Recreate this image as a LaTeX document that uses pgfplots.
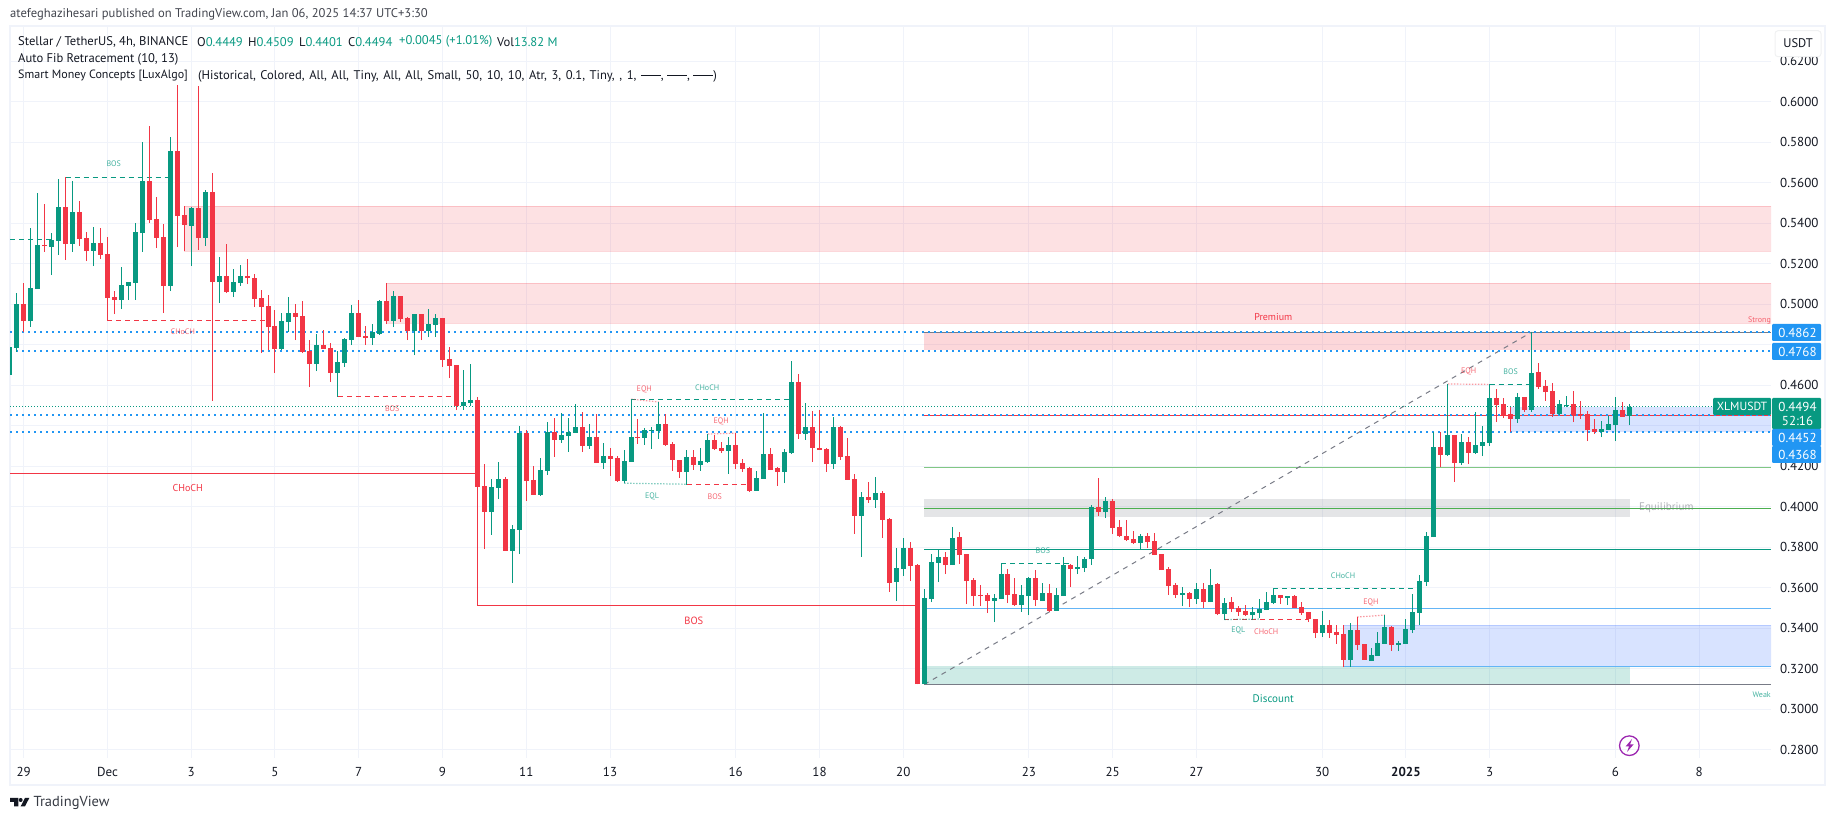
\documentclass[border=0pt]{standalone}
\usepackage{fontspec}
\setmainfont{PT Sans}
\usepackage{pgfplots}
\usepackage{pgfplotstable}
\pgfplotsset{compat=1.18}
\definecolor{upc}{HTML}{089981}
\definecolor{dnc}{HTML}{F23645}
\definecolor{blu}{HTML}{2196F3}
\definecolor{gridc}{HTML}{F0F3FA}
\definecolor{ink}{HTML}{131722}
\definecolor{greyl}{HTML}{787B86}
\definecolor{bluez}{HTML}{2962FF}

% columns: candle number (0 = 29 Nov 00:00, 6 candles a day), open, high, low, close
\pgfplotstableread{
i o h l c
-2 .4650 .4790 .4650 .4790
-1 .4785 .5053 .4765 .5001
1 .4917 .5374 .4889 .5078
2 .5077 .5547 .5077 .5290
4 .5282 .5350 .5144 .5317
5 .5312 .5616 .5243 .5478
7 .5299 .5608 .5259 .5453
10 .5262 .5379 .5188 .5302
14 .5021 .5184 .4976 .5095
15 .5090 .5111 .5021 .5109
16 .5104 .5399 .5021 .5356
17 .5351 .5799 .5258 .5608
21 .5090 .5825 .5065 .5756
24 .5386 .5480 .5188 .5475
26 .5327 .5564 .5287 .5554
28 .5109 .5233 .5006 .5139
30 .5060 .5174 .5035 .5108
31 .5104 .5193 .5090 .5139
37 .4779 .4956 .4774 .4917
38 .4912 .5035 .4863 .4956
42 .4704 .4853 .4670 .4798
45 .4660 .4769 .4543 .4714
46 .4709 .4833 .4690 .4828
47 .4823 .4996 .4798 .4956
50 .4833 .4902 .4798 .4862
51 .4853 .5021 .4848 .5016
53 .4917 .5065 .4887 .5040
56 .4867 .4951 .4749 .4951
58 .4867 .4976 .4838 .4902
59 .4897 .4951 .4838 .4932
63 .4498 .4675 .4478 .4517
64 .4513 .4705 .4498 .4527
67 .3974 .4137 .3861 .4098
68 .4093 .4221 .4038 .4137
70 .3782 .3910 .3624 .3890
71 .3885 .4399 .3767 .4364
74 .4058 .4241 .4053 .4182
75 .4177 .4419 .4157 .4369
77 .4330 .4461 .4315 .4354
78 .4350 .4438 .4271 .4369
79 .4364 .4508 .4364 .4394
81 .4300 .4409 .4285 .4345
83 .4216 .4315 .4187 .4251
86 .4127 .4280 .4116 .4226
87 .4221 .4531 .4221 .4345
89 .4340 .4389 .4305 .4379
90 .4374 .4394 .4285 .4379
91 .4374 .4517 .4335 .4409
95 .4172 .4280 .4108 .4246
97 .4206 .4290 .4177 .4226
98 .4221 .4359 .4216 .4330
101 .4275 .4345 .4162 .4305
105 .4078 .4177 .4078 .4142
106 .4137 .4463 .4137 .4261
109 .4172 .4285 .4117 .4271
110 .4266 .4720 .4261 .4616
112 .4359 .4513 .4330 .4394
116 .4211 .4443 .4187 .4394
120 .3954 .4073 .3752 .4048
122 .4033 .4147 .3994 .4068
125 .3629 .3797 .3535 .3698
126 .3693 .3846 .3658 .3797
129 .3124 .3593 .3122 .3549
130 .3544 .3766 .3529 .3727
131 .3722 .3786 .3628 .3751
133 .3712 .3899 .3712 .3845
139 .3534 .3569 .3430 .3549
140 .3544 .3720 .3544 .3667
143 .3514 .3613 .3480 .3564
144 .3559 .3652 .3465 .3648
146 .3534 .3623 .3534 .3573
148 .3485 .3598 .3485 .3564
149 .3559 .3751 .3559 .3712
151 .3692 .3759 .3667 .3702
152 .3697 .3751 .3677 .3741
153 .3741 .4008 .3712 .3998
155 .3973 .4048 .3944 .4028
160 .3820 .3865 .3791 .3855
166 .3564 .3603 .3509 .3573
168 .3544 .3623 .3519 .3593
170 .3529 .3692 .3529 .3613
172 .3470 .3549 .3442 .3524
176 .3465 .3504 .3440 .3480
177 .3475 .3544 .3450 .3494
178 .3489 .3578 .3489 .3529
179 .3524 .3596 .3519 .3564
181 .3549 .3559 .3514 .3559
186 .3376 .3485 .3356 .3415
190 .3243 .3425 .3208 .3391
193 .3238 .3302 .3238 .3267
194 .3263 .3381 .3263 .3327
195 .3322 .3465 .3322 .3406
197 .3317 .3337 .3287 .3327
198 .3322 .3445 .3322 .3396
199 .3391 .3569 .3376 .3480
200 .3475 .3662 .3415 .3633
201 .3628 .3875 .3608 .3855
202 .3850 .4369 .3850 .4294
204 .4255 .4606 .4250 .4354
206 .4215 .4359 .4206 .4319
208 .4265 .4467 .4260 .4304
209 .4299 .4398 .4250 .4319
210 .4314 .4606 .4299 .4536
214 .4433 .4561 .4413 .4541
216 .4477 .4862 .4467 .4660
220 .4457 .4527 .4452 .4507
221 .4499 .4546 .4492 .4504
226 .4369 .4423 .4344 .4383
227 .4378 .4448 .4378 .4408
228 .4403 .4541 .4324 .4477
230 .4449 .4509 .4401 .4494
}\upT

\pgfplotstableread{
i o h l c
0 .5001 .5103 .4864 .4917
3 .5290 .5495 .5259 .5286
6 .5478 .5626 .5218 .5299
8 .5453 .5509 .5287 .5323
9 .5327 .5355 .5213 .5262
11 .5302 .5374 .5223 .5243
12 .5248 .5332 .4922 .5032
13 .5035 .5065 .4951 .5021
18 .5608 .5880 .5401 .5416
19 .5421 .5529 .5277 .5327
20 .5332 .5396 .4956 .5090
22 .5756 .6082 .5282 .5435
23 .5440 .5485 .5262 .5391
25 .5475 .6077 .5267 .5327
27 .5554 .5648 .4522 .5109
29 .5139 .5297 .5055 .5060
32 .5139 .5223 .5099 .5129
33 .5129 .5147 .4986 .5025
34 .5030 .5070 .4759 .4986
35 .4991 .5045 .4774 .4887
36 .4892 .4971 .4660 .4779
39 .4956 .5001 .4823 .4937
40 .4942 .5016 .4759 .4764
41 .4769 .4823 .4591 .4704
43 .4798 .4872 .4779 .4779
44 .4783 .4808 .4616 .4660
48 .4956 .5021 .4838 .4838
49 .4843 .4892 .4798 .4833
52 .5016 .5104 .4902 .4917
54 .5040 .5040 .4912 .4927
55 .4932 .4937 .4823 .4867
57 .4951 .4951 .4823 .4867
60 .4932 .4932 .4690 .4724
61 .4729 .4788 .4635 .4695
62 .4700 .4700 .4477 .4497
65 .4527 .4540 .4099 .4099
66 .4103 .4211 .3792 .3974
69 .4137 .4147 .3782 .3782
72 .4364 .4379 .4029 .4127
73 .4132 .4201 .4058 .4058
76 .4369 .4438 .4246 .4330
80 .4394 .4468 .4271 .4300
82 .4345 .4458 .4216 .4216
84 .4251 .4290 .4152 .4236
85 .4241 .4251 .4122 .4127
88 .4345 .4433 .4310 .4340
92 .4409 .4458 .4300 .4305
93 .4310 .4320 .4177 .4231
94 .4231 .4231 .4142 .4172
96 .4246 .4280 .4182 .4206
99 .4330 .4354 .4280 .4285
100 .4290 .4320 .4266 .4275
102 .4305 .4364 .4187 .4211
103 .4216 .4236 .4172 .4187
104 .4191 .4196 .4073 .4078
107 .4261 .4290 .4182 .4182
108 .4191 .4196 .4103 .4172
111 .4616 .4656 .4335 .4359
113 .4394 .4473 .4221 .4290
114 .4290 .4478 .4280 .4280
115 .4285 .4290 .4172 .4211
117 .4394 .4399 .4231 .4246
118 .4251 .4340 .4132 .4132
119 .4137 .4162 .3866 .3954
121 .4048 .4122 .4019 .4033
123 .4068 .4078 .3846 .3935
124 .3940 .3945 .3579 .3624
127 .3797 .3826 .3633 .3708
128 .3712 .3717 .3122 .3124
132 .3751 .3776 .3667 .3712
134 .3850 .3875 .3717 .3761
135 .3766 .3766 .3519 .3633
136 .3638 .3648 .3509 .3559
137 .3564 .3613 .3509 .3559
138 .3564 .3573 .3475 .3534
141 .3667 .3692 .3524 .3564
142 .3569 .3648 .3509 .3514
145 .3648 .3687 .3509 .3539
147 .3573 .3618 .3480 .3485
150 .3712 .3717 .3603 .3692
154 .3998 .4141 .3954 .3973
156 .4028 .4038 .3865 .3894
157 .3899 .3934 .3850 .3855
158 .3855 .3934 .3830 .3835
159 .3840 .3880 .3815 .3820
161 .3855 .3870 .3796 .3825
162 .3830 .3870 .3761 .3761
163 .3766 .3766 .3687 .3687
164 .3692 .3702 .3564 .3608
165 .3613 .3623 .3549 .3564
167 .3573 .3578 .3504 .3544
169 .3593 .3623 .3499 .3529
171 .3618 .3623 .3465 .3470
173 .3529 .3554 .3480 .3494
174 .3499 .3509 .3460 .3480
175 .3485 .3514 .3460 .3465
180 .3564 .3564 .3519 .3549
182 .3559 .3564 .3499 .3499
183 .3504 .3529 .3465 .3475
184 .3480 .3480 .3430 .3445
185 .3445 .3445 .3351 .3376
187 .3415 .3440 .3351 .3376
188 .3381 .3415 .3322 .3366
189 .3371 .3415 .3208 .3243
191 .3391 .3455 .3292 .3317
192 .3322 .3322 .3243 .3243
196 .3406 .3411 .3287 .3317
203 .4294 .4369 .4196 .4255
205 .4354 .4354 .4122 .4215
207 .4319 .4344 .4211 .4265
211 .4536 .4581 .4418 .4502
212 .4507 .4536 .4438 .4448
213 .4457 .4492 .4369 .4433
215 .4541 .4541 .4467 .4477
217 .4665 .4709 .4581 .4591
218 .4596 .4625 .4522 .4566
219 .4571 .4611 .4443 .4457
222 .4507 .4571 .4418 .4452
223 .4456 .4522 .4433 .4451
224 .4457 .4472 .4324 .4378
225 .4383 .4433 .4359 .4369
229 .4477 .4517 .4443 .4443
}\dnT

\newcommand{\sz}[1]{\fontsize{#1}{#1}\selectfont}
\newcommand{\ldash}{\rule[3.5pt]{20pt}{1pt}}
\tikzset{tagf/.style={font=\sz{13}}}
% price tag on the right scale: top y, bottom y (px from the top), colour, text
\newcommand{\tagbox}[4]{%
  \fill[#3,rounded corners=1pt] (1772,821-#1) rectangle (1821,821-#2);
  \node[text=white,tagf,inner sep=0pt] at (1797.5,{821-0.5*#1-0.5*#2}) {#4};}

\begin{document}
\begin{tikzpicture}[x=1pt,y=1pt]
\useasboundingbox (0,0) rectangle (1835,821);
\draw[gridc,line width=2pt] (9.5,795) rectangle (1825,36);

\begin{axis}[
  at={(10pt,63pt)}, anchor=south west,
  scale only axis, width=1761pt, height=731pt,
  xmin=-1.958, xmax=250.3, ymin=0.2759, ymax=0.6369,
  clip mode=individual,
  axis line style={draw=none},
  major tick length=0pt,
  grid=major, grid style={gridc,line width=1pt},
  ytick={0.28,0.30,0.32,0.34,0.36,0.38,0.40,0.42,0.44,0.46,0.48,0.50,0.52,0.54,0.56,0.58,0.60,0.62},
  yticklabels={0.2800,0.3000,0.3200,0.3400,0.3600,0.3800,0.4000,0.4200,,0.4600,,0.5000,0.5200,0.5400,0.5600,0.5800,0.6000,0.6200},
  yticklabel pos=right,
  yticklabel style={anchor=west,inner sep=0pt,xshift=9pt,text=ink,font=\sz{13}},
  xtick={0,12,24,36,48,60,72,84,102,114,126,144,156,168,186,198,210,228,240},
  xticklabels={29,Dec,3,5,7,9,11,13,16,18,20,23,25,27,30,\textbf{2025},3,6,8},
  xticklabel style={anchor=center,inner sep=0pt,yshift=-14pt,text=ink,font=\sz{13}},
  every axis plot/.append style={forget plot},
]
% supply and demand zones
\addplot[fill=dnc,fill opacity=.15,draw=dnc,draw opacity=.2] coordinates {(23,.5485)(250.3,.5485)(250.3,.5264)(23,.5264)} --cycle;
\addplot[fill=dnc,fill opacity=.15,draw=dnc,draw opacity=.2] coordinates {(52,.5104)(250.3,.5104)(250.3,.4905)(52,.4905)} --cycle;
\addplot[fill=dnc,fill opacity=.2,draw=none] coordinates {(129,.4862)(230.1,.4862)(230.1,.4774)(129,.4774)} --cycle;
\addplot[fill=greyl,fill opacity=.2,draw=none] coordinates {(129,.4036)(230.1,.4036)(230.1,.3950)(129,.3950)} --cycle;
\addplot[fill=upc,fill opacity=.2,draw=none] coordinates {(129,.3213)(230.1,.3213)(230.1,.3122)(129,.3122)} --cycle;
\addplot[fill=bluez,fill opacity=.18,draw=bluez,draw opacity=.2] coordinates {(189,.3415)(250.3,.3415)(250.3,.3210)(189,.3210)} --cycle;
\addplot[fill=bluez,fill opacity=.18,draw=none] coordinates {(213,.4494)(250.3,.4494)(250.3,.4367)(213,.4367)} --cycle;

% retracement levels
\addplot[greyl,line width=1pt] coordinates {(129,.4862)(250.3,.4862)};
\addplot[dnc,line width=1pt] coordinates {(129,.4452)(250.3,.4452)};
\addplot[color={rgb,255:red,129;green,199;blue,132},line width=1pt] coordinates {(129,.4194)(250.3,.4194)};
\addplot[color={rgb,255:red,76;green,175;blue,80},line width=1pt] coordinates {(129,.3992)(250.3,.3992)};
\addplot[upc,line width=1pt] coordinates {(129,.3789)(250.3,.3789)};
\addplot[color={rgb,255:red,100;green,181;blue,246},line width=1pt] coordinates {(129,.3498)(250.3,.3498)};
\addplot[color={rgb,255:red,100;green,181;blue,246},line width=1pt] coordinates {(189,.3211)(250.3,.3211)};
\addplot[greyl,line width=1pt] coordinates {(129,.3122)(250.3,.3122)};
\addplot[greyl,line width=1pt,dash pattern=on 5pt off 5pt] coordinates {(129,.3122)(216,.4862)};

% previous highs and lows, price line
\addplot[blu,line width=2pt,dash pattern=on 2pt off 4pt] coordinates {(-1.958,.4862)(250.3,.4862)};
\addplot[blu,line width=2pt,dash pattern=on 2pt off 4pt] coordinates {(-1.958,.4768)(250.3,.4768)};
\addplot[blu,line width=2pt,dash pattern=on 2pt off 4pt] coordinates {(-1.958,.4452)(250.3,.4452)};
\addplot[blu,line width=2pt,dash pattern=on 2pt off 4pt] coordinates {(-1.958,.4368)(250.3,.4368)};
\addplot[upc,line width=1pt,dash pattern=on 1pt off 2pt] coordinates {(-1.958,.4494)(250.3,.4494)};

% market structure
\addplot[dnc,line width=1pt] coordinates {(-1.958,.4165)(65,.4165)(65,.3513)(128,.3513)};
\addplot[upc,line width=1.2pt,dash pattern=on 5pt off 4pt] coordinates {(6,.5626)(21,.5626)};
\addplot[upc,line width=1.2pt,dash pattern=on 5pt off 4pt] coordinates {(-1.958,.5320)(4,.5320)};
\addplot[dnc,line width=1.2pt,dash pattern=on 5pt off 4pt] coordinates {(12,.4920)(35,.4920)};
\addplot[dnc,line width=1.2pt,dash pattern=on 5pt off 4pt] coordinates {(45,.4545)(62,.4545)};
\addplot[upc,line width=1.2pt,dash pattern=on 5pt off 4pt] coordinates {(87,.4531)(110,.4531)};
\addplot[dnc,line width=1.2pt,dash pattern=on 5pt off 4pt] coordinates {(95,.4111)(104,.4111)};
\addplot[upc,line width=1.2pt,dash pattern=on 5pt off 4pt] coordinates {(140,.3720)(150,.3720)};
\addplot[upc,line width=1.2pt,dash pattern=on 5pt off 4pt] coordinates {(179,.3597)(200,.3597)};
\addplot[dnc,line width=1.2pt,dash pattern=on 5pt off 4pt] coordinates {(172,.3443)(184,.3443)};
\addplot[upc,line width=1.2pt,dash pattern=on 5pt off 4pt] coordinates {(210,.4604)(216,.4604)};
\addplot[dnc,opacity=.5,line width=1.2pt,dash pattern=on 1.5pt off 1.5pt] coordinates {(87,.4531)(91,.4517)};
\addplot[dnc,opacity=.5,line width=1.2pt,dash pattern=on 1.5pt off 1.5pt] coordinates {(98,.4359)(102,.4363)};
\addplot[dnc,opacity=.5,line width=1.2pt,dash pattern=on 1.5pt off 1.5pt] coordinates {(191,.3455)(195,.3465)};
\addplot[dnc,opacity=.5,line width=1.2pt,dash pattern=on 1.5pt off 1.5pt] coordinates {(204,.4606)(210,.4604)};
\addplot[upc,opacity=.5,line width=1.2pt,dash pattern=on 1.5pt off 1.5pt] coordinates {(86,.4116)(95,.4111)};
\addplot[upc,opacity=.5,line width=1.2pt,dash pattern=on 1.5pt off 1.5pt] coordinates {(172,.3443)(177,.3445)};

% candles: wicks, then bodies
\addplot[draw=none,no markers,error bars/.cd,y dir=plus,y explicit,error mark=none,error bar style={draw=upc,solid,line width=1pt}]
  table[x=i,y=l,y error plus expr=\thisrow{h}-\thisrow{l}] {\upT};
\addplot[draw=none,no markers,error bars/.cd,y dir=plus,y explicit,error mark=none,error bar style={draw=dnc,solid,line width=1pt}]
  table[x=i,y=l,y error plus expr=\thisrow{h}-\thisrow{l}] {\dnT};
\addplot[draw=none,no markers,error bars/.cd,y dir=plus,y explicit,error mark=none,error bar style={draw=upc,solid,line width=5pt}]
  table[x=i,y=o,y error plus expr=\thisrow{c}-\thisrow{o}] {\upT};
\addplot[draw=none,no markers,error bars/.cd,y dir=plus,y explicit,error mark=none,error bar style={draw=dnc,solid,line width=5pt}]
  table[x=i,y=c,y error plus expr=\thisrow{o}-\thisrow{c}] {\dnT};

% structure labels
\tikzset{lu/.style={text=upc,text opacity=.75,font=\sz{8},inner sep=0pt},ld/.style={text=dnc,text opacity=.75,font=\sz{8},inner sep=0pt}}
\node[lu] at (axis cs:12.9,.5692) {BOS};
\node[ld] at (axis cs:22.8,.4863) {CHoCH};
\node[ld] at (axis cs:52.8,.4484) {BOS};
\node[text=dnc,font=\sz{10},inner sep=0pt] at (axis cs:23.5,.4092) {CHoCH};
\node[text=dnc,font=\sz{10.5},inner sep=0pt] at (axis cs:96,.3437) {BOS};
\node[lu] at (axis cs:97.9,.4590) {CHoCH};
\node[ld] at (axis cs:88.9,.4580) {EQH};
\node[ld] at (axis cs:99.9,.4422) {EQH};
\node[lu] at (axis cs:90,.4051) {EQL};
\node[ld] at (axis cs:99,.4051) {BOS};
\node[lu] at (axis cs:146,.3783) {BOS};
\node[lu] at (axis cs:189,.3661) {CHoCH};
\node[ld] at (axis cs:178,.3385) {CHoCH};
\node[lu] at (axis cs:174,.3390) {EQL};
\node[ld] at (axis cs:193,.3528) {EQH};
\node[ld] at (axis cs:207,.4669) {EQH};
\node[lu] at (axis cs:213,.4669) {BOS};
\node[text=dnc,font=\sz{10},inner sep=0pt] at (axis cs:179,.4937) {Premium};
\node[ld,anchor=east] at (axis cs:250.3,.4919) {Strong};
\node[text=greyl,text opacity=.6,font=\sz{11},inner sep=0pt] at (axis cs:235.3,.3995) {Equilibrium};
\node[text=upc,font=\sz{11},inner sep=0pt] at (axis cs:179,.3052) {Discount};
\node[lu,anchor=east] at (axis cs:250.3,.3070) {Weak};
\end{axis}

% price scale tags and button
\fill[upc,rounded corners=1pt] (1713,423) rectangle (1771,406);
\node[text=white,font=\sz{11.8},inner sep=0pt] at (1742,414.5) {XLMUSDT};
\tagbox{324}{341}{blu}{0.4862}
\tagbox{343}{360}{blu}{0.4768}
\fill[upc,rounded corners=1pt] (1772,423) rectangle (1821,392);
\node[text=white,tagf,inner sep=0pt] at (1797.5,414.5) {0.4494};
\node[text=white,tagf,inner sep=0pt] at (1797.5,400) {52:16};
\tagbox{429}{446}{blu}{0.4452}
\tagbox{446}{463}{blu}{0.4368}
\draw[fill=white,draw=gridc!70!gray!30,line width=1pt,rounded corners=3pt] (1775,790.3) rectangle (1821,764.3);
\node[text=ink,font=\sz{12.5},inner sep=0pt] at (1798,777.5) {USDT};

% replay icon
\draw[color={rgb,255:red,156;green,39;blue,176},line width=1.3pt] (1629.3,75.3) circle (9.8);
\fill[color={rgb,255:red,156;green,39;blue,176}] (1632,82)--(1625.5,74.5)--(1629,74.5)--(1627,69)--(1633.5,76.5)--(1630,76.5)--cycle;

% header and legend
\tikzset{hd/.style={anchor=west,inner sep=0pt,font=\sz{12.6}}}
\node[hd,text=ink!80] at (10,806.3) {atefeghazihesari published on TradingView.com, Jan 06, 2025 14:37 UTC+3:30};
\node[hd,text=ink] at (18,779.3) {Stellar / TetherUS, 4h, BINANCE};
\node[hd,text=ink] at (197,779.3) {O\textcolor{upc}{0.4449}};
\node[hd,text=ink] at (248,779.3) {H\textcolor{upc}{0.4509}};
\node[hd,text=ink] at (299,779.3) {L\textcolor{upc}{0.4401}};
\node[hd,text=ink] at (348,779.3) {C\textcolor{upc}{0.4494}};
\node[hd,text=upc] at (399,779.3) {+0.0045 (+1.01\%)};
\node[hd,text=ink] at (497,779.3) {Vol\textcolor{upc}{13.82 M}};
\node[hd,text=ink] at (18,762) {Auto Fib Retracement (10, 13)};
\node[hd,text=ink,font=\sz{12}] at (18,745) {Smart Money Concepts [LuxAlgo]};
\node[hd,text=ink] at (198,745) {\spaceskip=4.6pt (Historical, Colored, All, All, Tiny, All, All, Small, 50, 10, 10, Atr, 3, 0.1, Tiny, , 1,};
\node[hd,text=ink] at (640.7,745) {\ldash, \ldash, \ldash)};

% logo
\fill[ink] (10,23)--(18.3,23)--(18.3,14.7)--(14,14.7)--(14,19)--(10,19)--cycle;
\fill[ink] (20.7,21) circle (2);
\fill[ink] (25,23)--(29.3,23)--(25,14.7)--(20.7,14.7)--cycle;
\node[anchor=west,inner sep=0pt,text=ink!85,font=\sz{14.5}] at (33.3,18.5) {TradingView};
\end{tikzpicture}
\end{document}
